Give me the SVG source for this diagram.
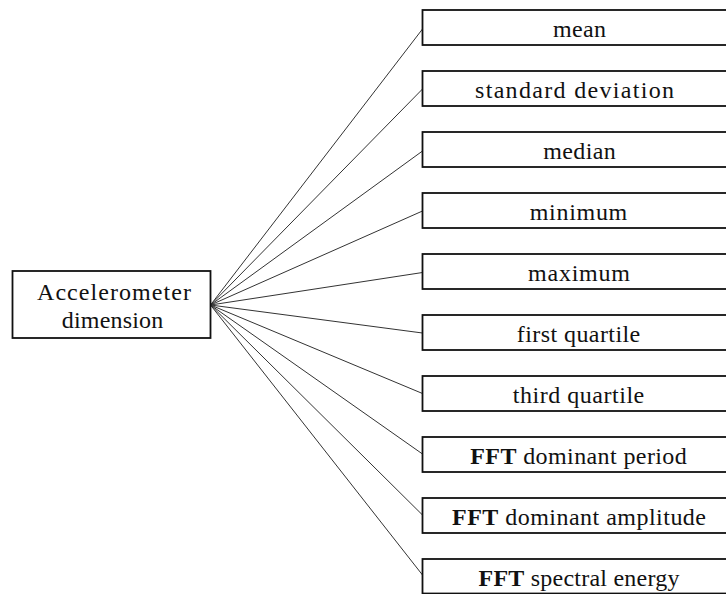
<svg xmlns="http://www.w3.org/2000/svg" width="726" height="594" viewBox="0 0 726 594">
  <style>
    .box { fill: #ffffff; stroke: #111111; stroke-width: 1.8; }
    .lbl { font-family: "Liberation Serif", "Times New Roman", serif; font-size: 24px; fill: #111111; text-anchor: middle; }
    .b { font-weight: bold; }
    .edge { stroke: #333333; stroke-width: 1; fill: none; }
  </style>
  <rect width="726" height="594" fill="#ffffff"/>

  <!-- connectors from the source node to each feature -->
  <g id="connectors">
    <line class="edge" x1="210.5" y1="305" x2="422.5" y2="29"/>
    <line class="edge" x1="210.5" y1="305" x2="422.5" y2="89"/>
    <line class="edge" x1="210.5" y1="305" x2="422.5" y2="151"/>
    <line class="edge" x1="210.5" y1="305" x2="422.5" y2="211"/>
    <line class="edge" x1="210.5" y1="305" x2="422.5" y2="272.5"/>
    <line class="edge" x1="210.5" y1="305" x2="422.5" y2="333"/>
    <line class="edge" x1="210.5" y1="305" x2="422.5" y2="393.5"/>
    <line class="edge" x1="210.5" y1="305" x2="422.5" y2="454"/>
    <line class="edge" x1="210.5" y1="305" x2="422.5" y2="515"/>
    <line class="edge" x1="210.5" y1="305" x2="422.5" y2="575"/>
  </g>

  <g id="source">
    <rect class="box" x="12.5" y="271" width="198" height="67"/>
    <text class="lbl" x="114" y="299.5" textLength="154" lengthAdjust="spacing">Accelerometer</text>
    <text class="lbl" x="112.5" y="328" textLength="101.5" lengthAdjust="spacing">dimension</text>
  </g>

  <g id="mean">
    <rect class="box" x="422.5" y="10" width="320" height="35"/>
    <text class="lbl" x="579.5" y="36.5" textLength="53" lengthAdjust="spacing">mean</text>
  </g>
  <g id="std">
    <rect class="box" x="422.5" y="71" width="320" height="35"/>
    <text class="lbl" x="574.5" y="97.5" textLength="199" lengthAdjust="spacing">standard deviation</text>
  </g>
  <g id="median">
    <rect class="box" x="422.5" y="132" width="320" height="35"/>
    <text class="lbl" x="579.5" y="159" textLength="72.5" lengthAdjust="spacing">median</text>
  </g>
  <g id="minimum">
    <rect class="box" x="422.5" y="193" width="320" height="35"/>
    <text class="lbl" x="578.5" y="220" textLength="97.5" lengthAdjust="spacing">minimum</text>
  </g>
  <g id="maximum">
    <rect class="box" x="422.5" y="254" width="320" height="35"/>
    <text class="lbl" x="579" y="281" textLength="102" lengthAdjust="spacing">maximum</text>
  </g>
  <g id="q1">
    <rect class="box" x="422.5" y="315" width="320" height="35"/>
    <text class="lbl" x="578.5" y="342" textLength="123.5" lengthAdjust="spacing">first quartile</text>
  </g>
  <g id="q3">
    <rect class="box" x="422.5" y="376" width="320" height="35"/>
    <text class="lbl" x="578.5" y="403" textLength="131.5" lengthAdjust="spacing">third quartile</text>
  </g>
  <g id="fft-period">
    <rect class="box" x="422.5" y="437" width="320" height="35"/>
    <text class="lbl" x="578.5" y="464" textLength="216.5" lengthAdjust="spacing"><tspan class="b">FFT</tspan> dominant period</text>
  </g>
  <g id="fft-amplitude">
    <rect class="box" x="422.5" y="498" width="320" height="35"/>
    <text class="lbl" x="579" y="525" textLength="254" lengthAdjust="spacing"><tspan class="b">FFT</tspan> dominant amplitude</text>
  </g>
  <g id="fft-energy">
    <rect class="box" x="422.5" y="559" width="320" height="34.5"/>
    <text class="lbl" x="579" y="586" textLength="201" lengthAdjust="spacing"><tspan class="b">FFT</tspan> spectral energy</text>
  </g>
</svg>
